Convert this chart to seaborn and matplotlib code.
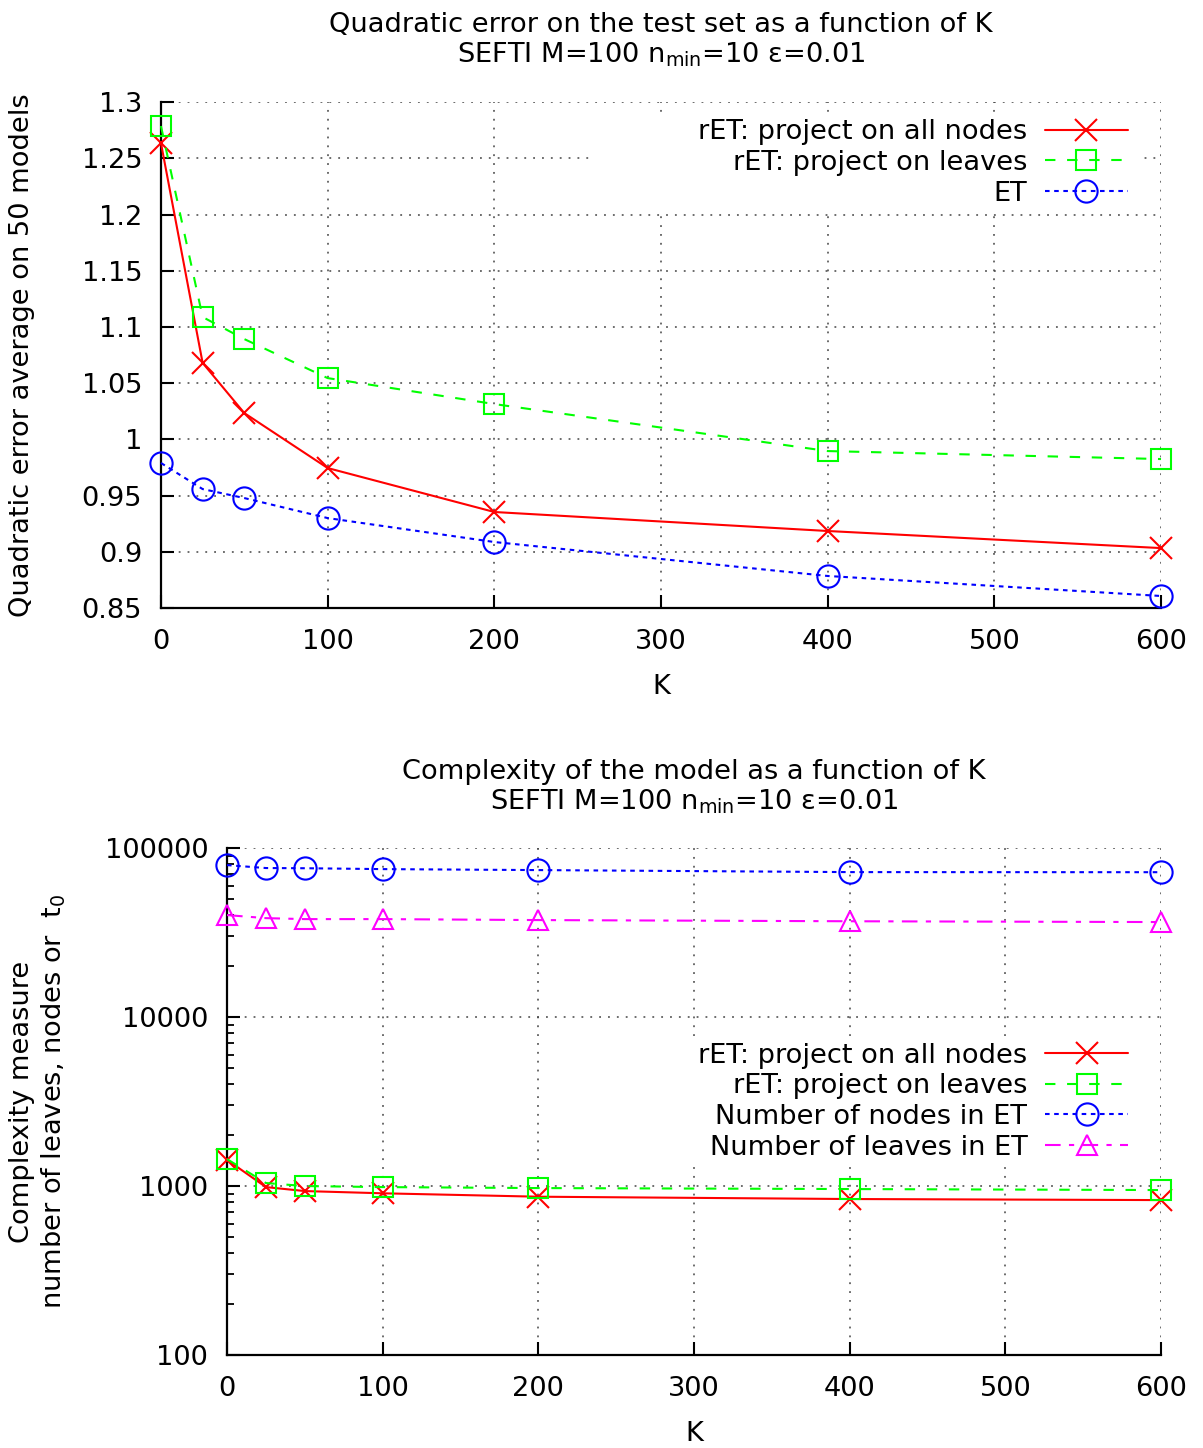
import matplotlib
matplotlib.use("Agg")
import matplotlib.pyplot as plt
import seaborn as sns
from matplotlib.patches import Rectangle
from matplotlib.ticker import LogLocator, NullFormatter

# ---------------- data ----------------
K = [0, 25, 50, 100, 200, 400, 600]

err_all_nodes = [1.2635, 1.068, 1.0234, 0.9745, 0.9354, 0.9185, 0.9033]
err_leaves = [1.2787, 1.1088, 1.0892, 1.0545, 1.0314, 0.9896, 0.9825]
err_et = [0.979, 0.9558, 0.9478, 0.930, 0.9087, 0.8785, 0.8607]

cx_all_nodes = [1430, 986, 934, 906, 865, 838, 826]
cx_leaves = [1444, 1042, 1000, 986, 973, 960, 947]
cx_et_nodes = [79300, 76200, 76000, 75100, 74100, 72100, 72000]
cx_et_leaves = [40140, 38500, 38000, 38000, 37500, 36900, 36500]

x_ticks = [0, 100, 200, 300, 400, 500, 600]
x_tick_labels = ["0", "100", "200", "300", "400", "500", "600"]
top_y_ticks = [0.85, 0.9, 0.95, 1.0, 1.05, 1.1, 1.15, 1.2, 1.25, 1.3]
top_y_labels = ["0.85", "0.9", "0.95", "1", "1.05", "1.1", "1.15", "1.2", "1.25", "1.3"]
bot_y_ticks = [100, 1000, 10000, 100000]
bot_y_labels = ["100", "1000", "10000", "100000"]

top_labels = ["rET: project on all nodes", "rET: project on leaves", "ET"]
bot_labels = ["rET: project on all nodes", "rET: project on leaves",
              "Number of nodes in ET", "Number of leaves in ET"]

# ---------------- style ----------------
sns.set_style("ticks")
plt.rcParams['font.family'] = ['DejaVu Sans']
plt.rcParams['mathtext.fontset'] = 'dejavusans'
plt.rcParams['text.color'] = 'black'
plt.rcParams['axes.labelcolor'] = 'black'
plt.rcParams['xtick.color'] = 'black'
plt.rcParams['ytick.color'] = 'black'
FS = 19.6

RED, GREEN, BLUE, MAGENTA = '#ff0000', '#00ff00', '#0000ff', '#ff00ff'
LS_SOLID = '-'
LS_DASH = (0, (5.0, 5.6))
LS_DOT = (0, (2.2, 2.2))
LS_DASHDOT = (0, (7.5, 4.0, 2.5, 4.0))

fig = plt.figure(figsize=(12.03, 14.48), dpi=100)
ax1 = fig.add_axes([0.1338, 0.5801, 0.8313, 0.3494])
ax2 = fig.add_axes([0.1887, 0.0642, 0.7764, 0.3501])


def draw(ax, y, color, marker, ms, ls, label):
    sns.lineplot(x=K, y=y, ax=ax, color=color, marker=marker, markersize=ms,
                 markerfacecolor='none', markeredgecolor=color, markeredgewidth=1.5,
                 linewidth=1.5, linestyle=ls, label=label, clip_on=False, zorder=3,
                 errorbar=None, legend=False)


def style_axes(ax):
    for s in ['top', 'right']:
        ax.spines[s].set_visible(False)
    for s in ['left', 'bottom']:
        ax.spines[s].set_linewidth(1.6)
        ax.spines[s].set_color('black')
    ax.set_axisbelow(True)
    ax.grid(True, which='major', color='#444444', linestyle=(0, (1.2, 4.6)), linewidth=1.1)
    ax.tick_params(axis='both', which='major', direction='in', length=9.5, width=1.5,
                   labelsize=FS, top=False, right=False, left=True, bottom=True,
                   colors='black')
    ax.tick_params(axis='x', which='major', pad=15)
    ax.tick_params(axis='y', which='major', pad=13.5)
    ax.set_xlim(0, 600)
    ax.set_xticks(x_ticks, labels=x_tick_labels)


# ---------------- top panel ----------------
draw(ax1, err_all_nodes, RED, 'x', 16, LS_SOLID, top_labels[0])
draw(ax1, err_leaves, GREEN, 's', 15, LS_DASH, top_labels[1])
draw(ax1, err_et, BLUE, 'o', 16, LS_DOT, top_labels[2])
style_axes(ax1)
ax1.set_ylim(0.85, 1.3)
ax1.set_yticks(top_y_ticks, labels=top_y_labels)
ax1.set_xlabel("K", fontsize=FS)
ax1.set_ylabel("Quadratic error average on 50 models", fontsize=FS)
ax1.xaxis.label.set_va('center')
ax1.yaxis.label.set_va('center')
ax1.xaxis.set_label_coords(0.5, -0.156)
ax1.yaxis.set_label_coords(-0.139, 0.5)
ax1.text(0.5, 1.1393, "Quadratic error on the test set as a function of K",
         transform=ax1.transAxes, ha='center', va='baseline', fontsize=FS)
ax1.text(0.5, 1.0781, "SEFTI M=100 n$_{\\mathrm{min}}$=10 ε=0.01",
         transform=ax1.transAxes, ha='center', va='baseline', fontsize=FS)
ax1.add_patch(Rectangle((0.432, 0.781), 0.55, 0.197, transform=ax1.transAxes,
                        facecolor='white', edgecolor='none', zorder=1))
leg1 = ax1.legend(loc='upper right', bbox_to_anchor=(0.967, 0.966), markerfirst=False,
                  frameon=False, fontsize=FS, handlelength=3.05, handletextpad=0.66,
                  labelspacing=0.17, borderpad=0, borderaxespad=0)
leg1.set_zorder(5)

# ---------------- bottom panel ----------------
draw(ax2, cx_all_nodes, RED, 'x', 16, LS_SOLID, bot_labels[0])
draw(ax2, cx_leaves, GREEN, 's', 15, LS_DASH, bot_labels[1])
draw(ax2, cx_et_nodes, BLUE, 'o', 16, LS_DOT, bot_labels[2])
draw(ax2, cx_et_leaves, MAGENTA, '^', 15, LS_DASHDOT, bot_labels[3])
ax2.set_yscale('log')
style_axes(ax2)
ax2.set_ylim(100, 100000)
ax2.set_yticks(bot_y_ticks, labels=bot_y_labels)
ax2.yaxis.set_minor_locator(LogLocator(base=10, subs=range(2, 10)))
ax2.yaxis.set_minor_formatter(NullFormatter())
ax2.tick_params(axis='y', which='minor', direction='in', length=5, width=1.3,
                left=True, right=False)
ax2.tick_params(axis='x', which='minor', bottom=False, top=False)
ax2.set_xlabel("K", fontsize=FS)
ax2.set_ylabel("Complexity measure\nnumber of leaves, nodes or  t$_0$", fontsize=FS,
               multialignment='center')
ax2.xaxis.label.set_va('center')
ax2.yaxis.label.set_va('center')
ax2.xaxis.set_label_coords(0.5, -0.156)
ax2.yaxis.set_label_coords(-0.202, 0.5)
ax2.text(0.5, 1.137, "Complexity of the model as a function of K",
         transform=ax2.transAxes, ha='center', va='baseline', fontsize=FS)
ax2.text(0.5, 1.0759, "SEFTI M=100 n$_{\\mathrm{min}}$=10 ε=0.01",
         transform=ax2.transAxes, ha='center', va='baseline', fontsize=FS)
ax2.add_patch(Rectangle((0.392, 0.375), 0.589, 0.246, transform=ax2.transAxes,
                        facecolor='white', edgecolor='none', zorder=1))
leg2 = ax2.legend(loc='upper right', bbox_to_anchor=(0.965, 0.616), markerfirst=False,
                  frameon=False, fontsize=FS, handlelength=3.05, handletextpad=0.66,
                  labelspacing=0.17, borderpad=0, borderaxespad=0)
leg2.set_zorder(5)

fig.savefig("out.png", dpi=100)
